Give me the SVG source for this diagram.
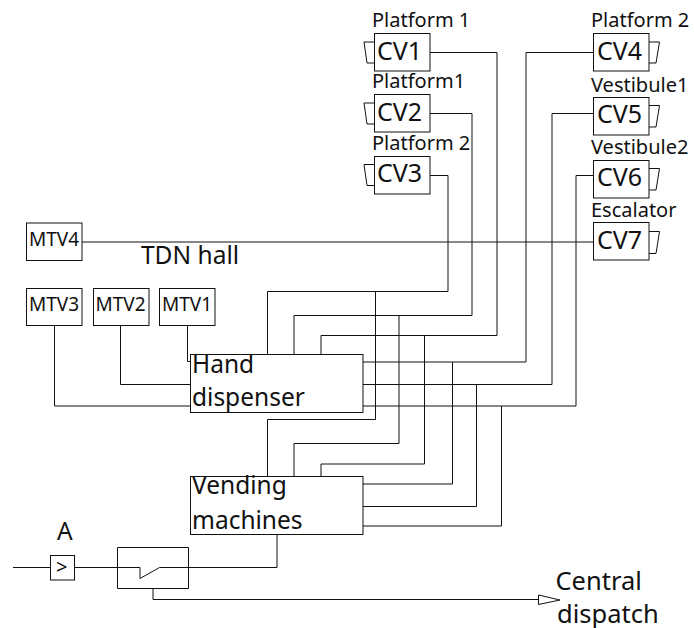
<svg xmlns="http://www.w3.org/2000/svg" width="694" height="628" viewBox="0 0 694 628">
<style>
rect{fill:#fff;stroke:#111;stroke-width:1}
.c path,.s{fill:none;stroke:#111;stroke-width:1}
text{font-family:"Noto Sans","DejaVu Sans",sans-serif;fill:#111}
.l{font-size:24.5px}.m{font-size:20px}.t{font-size:19px}.b{font-size:25px}.h{font-size:25.5px}
</style>
<rect x="0" y="0" width="694" height="628" style="fill:#fff;stroke:none"/>
<g id="connectors" class="c">
<path d="M82 242H593"/>
<path d="M430 52.5H497V335.5H321V354"/>
<path d="M430 113.5H472V315.5H294V354"/>
<path d="M430 175.5H448V291.5H267.5V354"/>
<path d="M593 52.5H526V362H363"/>
<path d="M593 113.5H552V384.5H363"/>
<path d="M593 175.5H576V406H363"/>
<path d="M375.5 291.5V419.5H267.5V476"/>
<path d="M399 315.5V443.5H294V476"/>
<path d="M424.5 335.5V464H321V476"/>
<path d="M452.5 362V484H363"/>
<path d="M476.5 384.5V506.5H363"/>
<path d="M501.5 406V526H363"/>
<path d="M187.5 325V361.5H191"/>
<path d="M120.5 325V384.5H191"/>
<path d="M54.5 325V406H191"/>
<path d="M13 567.5H50"/>
<path d="M74.5 567.5H140V578.5L159.5 567.5H277V534"/>
<path d="M153 588V599.5H538"/>
<path d="M538.5 595L560 600L538.5 604.5Z" style="fill:#fff"/>
</g>
<g id="CV1"><path class="s" d="M374 42H364L367 63H374"/><rect x="374.5" y="33.5" width="55.5" height="37.5"/><text class="b" x="377" y="59.5">CV1</text><text class="m" x="372" y="27">Platform 1</text></g>
<g id="CV2"><path class="s" d="M374 103H364L367 124H374"/><rect x="374.5" y="94.5" width="55.5" height="37.5"/><text class="b" x="377" y="121">CV2</text><text class="m" x="372" y="88">Platform1</text></g>
<g id="CV3"><path class="s" d="M374 164.500H364L367 185.500H374"/><rect x="374.5" y="156.500" width="55.5" height="37.5"/><text class="b" x="377" y="182">CV3</text><text class="m" x="372" y="150">Platform 2</text></g>
<g id="CV4"><path class="s" d="M649 42H659.500L656 63H649"/><rect x="593.5" y="33.500" width="55.500" height="37.500"/><text class="b" x="597" y="59.500">CV4</text><text class="m" x="591" y="27">Platform 2</text></g>
<g id="CV5"><path class="s" d="M649 105.500H659.500L656 127H649"/><rect x="593.5" y="97.500" width="55.500" height="37.500"/><text class="b" x="597" y="122.500">CV5</text><text class="m" x="591" y="91.500">Vestibule1</text></g>
<g id="CV6"><path class="s" d="M649 168.500H659.500L656 190H649"/><rect x="593.5" y="160.500" width="55.500" height="37.500"/><text class="b" x="597" y="186">CV6</text><text class="m" x="591" y="154">Vestibule2</text></g>
<g id="CV7"><path class="s" d="M649 231.500H659.500L656 253.500H649"/><rect x="593.5" y="222.500" width="55.500" height="37.500"/><text class="b" x="597" y="249">CV7</text><text class="m" x="591" y="217">Escalator</text></g>
<g id="MTV4"><rect x="26.500" y="223" width="55.500" height="37.500"/><text class="t" x="29" y="245.500">MTV4</text></g>
<g id="MTV3"><rect x="26.500" y="288.500" width="55.500" height="37"/><text class="t" x="29" y="311">MTV3</text></g>
<g id="MTV2"><rect x="93.500" y="288.500" width="55.500" height="37"/><text class="t" x="95.500" y="311">MTV2</text></g>
<g id="MTV1"><rect x="159.500" y="288.500" width="55.500" height="37"/><text class="t" x="162" y="311">MTV1</text></g>
<text class="l" x="141" y="263.500">TDN hall</text>
<g id="hand-dispenser"><rect x="190.500" y="354.500" width="172.500" height="58"/><text class="l" x="192" y="372.500">Hand</text><text class="l" x="192" y="406">dispenser</text></g>
<g id="vending-machines"><rect x="190.500" y="476.500" width="172.500" height="58"/><text class="l" x="192" y="494">Vending</text><text class="l" x="192" y="528.500">machines</text></g>
<g id="A"><rect x="50.500" y="555.500" width="24" height="24.500"/><text class="m" x="56" y="574">&gt;</text><text class="l" x="57" y="539.500">A</text></g>
<g id="switch"><path class="s" d="M117.500 547.500H188.500V588.500H117.500Z"/></g>
<g id="central-dispatch"><text class="h" x="555.500" y="590">Central</text><text class="h" x="557" y="622.500">dispatch</text></g>
</svg>
